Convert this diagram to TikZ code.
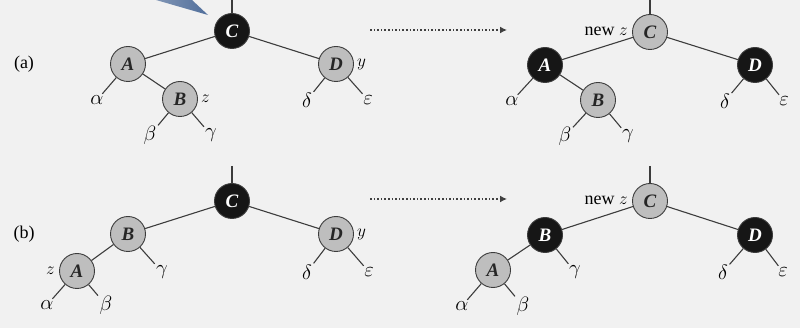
\documentclass[tikz,border=0pt]{standalone}
\usepackage{fontspec}
\setmainfont{Liberation Serif}
\usetikzlibrary{arrows.meta}
\definecolor{bg}{RGB}{241,241,241}
\definecolor{redn}{RGB}{190,190,190}
\definecolor{blackn}{RGB}{22,22,22}
\definecolor{edge}{RGB}{60,60,60}
\definecolor{wedge}{RGB}{80,110,155}
\tikzset{
  rb/.style={circle,draw=edge,line width=0.9pt,minimum size=35pt,inner sep=0pt,font=\fontsize{19}{21}\selectfont\bfseries\itshape},
  rn/.style={rb,fill=redn,text=black!85},
  bn/.style={rb,fill=blackn,text=white},
  lf/.style={inner sep=1.5pt,font=\fontsize{20}{22}\selectfont},
  tx/.style={inner sep=1pt,font=\fontsize{18}{20}\selectfont},
  ed/.style={draw=edge,line width=1.1pt},
  go/.style={draw=black!75,line width=1.6pt,dotted,-{Latex[length=7pt,width=7pt]}}
}
\begin{document}
\begin{tikzpicture}[x=1pt,y=-1pt]
\fill[bg] (0,0) rectangle (800,328);
\useasboundingbox (0,0) rectangle (800,328);
% blue wedge
\shade[left color=wedge!70!bg,right color=wedge] (156,0) -- (192,0) -- (208,15) -- cycle;
% ---------------- (a) left
\node[tx] (la) at (24,64) {(a)};
\node[bn] (aC) at (232,31) {C};
\node[rn] (aA) at (128,64) {A};
\node[rn] (aB) at (180,99) {B};
\node[rn] (aD) at (336,64) {D};
\node[tx,anchor=west] (az) at (200,99) {$z$};
\node[tx,anchor=west] (ay) at (356,64) {$y$};
\node[lf] (aal) at (97,100) {$\alpha$};
\node[lf] (abe) at (150,135) {$\beta$};
\node[lf] (aga) at (211,135) {$\gamma$};
\node[lf] (ade) at (307,100) {$\delta$};
\node[lf] (aep) at (368,100) {$\varepsilon$};
\coordinate (aT) at (232,0);
\draw[ed] (aT) -- (aC);
\draw[ed] (aC) -- (aA);
\draw[ed] (aC) -- (aD);
\draw[ed] (aA) -- (aB);
\draw[ed] (aA) -- (aal);
\draw[ed] (aB) -- (abe);
\draw[ed] (aB) -- (aga);
\draw[ed] (aD) -- (ade);
\draw[ed] (aD) -- (aep);
% ---------------- (a) right
\node[rn] (cC) at (650,32) {C};
\node[tx,anchor=east] (cz) at (629,31) {new $z$};
\node[bn] (cA) at (545,65) {A};
\node[rn] (cB) at (598,100) {B};
\node[bn] (cD) at (755,65) {D};
\node[lf] (cal) at (512,101) {$\alpha$};
\node[lf] (cbe) at (565,136) {$\beta$};
\node[lf] (cga) at (628,136) {$\gamma$};
\node[lf] (cde) at (725,101) {$\delta$};
\node[lf] (cep) at (784,101) {$\varepsilon$};
\coordinate (cT) at (650,0);
\draw[ed] (cT) -- (cC);
\draw[ed] (cC) -- (cA);
\draw[ed] (cC) -- (cD);
\draw[ed] (cA) -- (cB);
\draw[ed] (cA) -- (cal);
\draw[ed] (cB) -- (cbe);
\draw[ed] (cB) -- (cga);
\draw[ed] (cD) -- (cde);
\draw[ed] (cD) -- (cep);
% arrow (a)
\coordinate (a1) at (370,30);
\coordinate (a2) at (507,30);
\draw[go] (a1) -- (a2);
% ---------------- (b) left
\node[tx] (lb) at (24,234) {(b)};
\node[bn] (bC) at (232,201) {C};
\node[rn] (bB) at (128,234) {B};
\node[rn] (bA) at (77,271) {A};
\node[rn] (bD) at (336,234) {D};
\node[tx,anchor=east] (bz) at (56,271) {$z$};
\node[tx,anchor=west] (by) at (356,234) {$y$};
\node[lf] (bga) at (162,272) {$\gamma$};
\node[lf] (bal) at (47,305) {$\alpha$};
\node[lf] (bbe) at (106,305) {$\beta$};
\node[lf] (bde) at (307,272) {$\delta$};
\node[lf] (bep) at (369,272) {$\varepsilon$};
\coordinate (bT) at (232,166);
\draw[ed] (bT) -- (bC);
\draw[ed] (bC) -- (bB);
\draw[ed] (bC) -- (bD);
\draw[ed] (bB) -- (bA);
\draw[ed] (bB) -- (bga);
\draw[ed] (bA) -- (bal);
\draw[ed] (bA) -- (bbe);
\draw[ed] (bD) -- (bde);
\draw[ed] (bD) -- (bep);
% ---------------- (b) right
\node[rn] (dC) at (650,201) {C};
\node[tx,anchor=east] (dz) at (629,200) {new $z$};
\node[bn] (dB) at (545,235) {B};
\node[rn] (dA) at (493,270) {A};
\node[bn] (dD) at (755,235) {D};
\node[lf] (dga) at (575,272) {$\gamma$};
\node[lf] (dal) at (462,306) {$\alpha$};
\node[lf] (dbe) at (523,306) {$\beta$};
\node[lf] (dde) at (723,272) {$\delta$};
\node[lf] (dep) at (783,272) {$\varepsilon$};
\coordinate (dT) at (650,166);
\draw[ed] (dT) -- (dC);
\draw[ed] (dC) -- (dB);
\draw[ed] (dC) -- (dD);
\draw[ed] (dB) -- (dA);
\draw[ed] (dB) -- (dga);
\draw[ed] (dA) -- (dal);
\draw[ed] (dA) -- (dbe);
\draw[ed] (dD) -- (dde);
\draw[ed] (dD) -- (dep);
% arrow (b)
\coordinate (b1) at (370,199);
\coordinate (b2) at (507,199);
\draw[go] (b1) -- (b2);
\end{tikzpicture}
\end{document}
